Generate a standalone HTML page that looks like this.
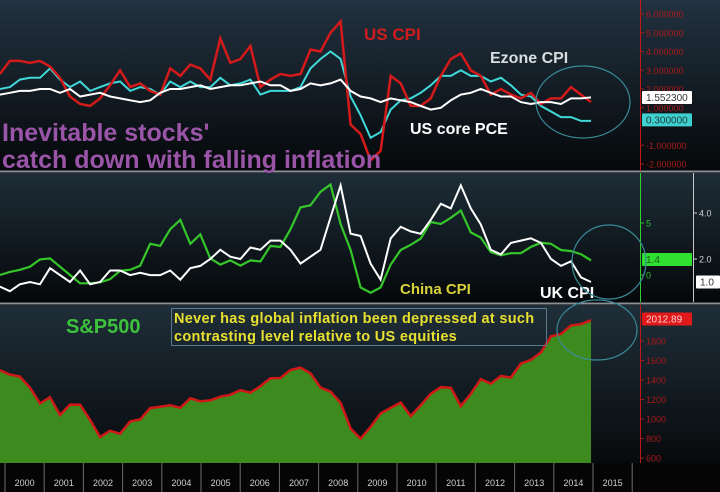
<!DOCTYPE html>
<html><head><meta charset="utf-8"><style>
html,body{margin:0;padding:0;background:#000;}
svg{display:block;font-family:"Liberation Sans",sans-serif;}
</style></head><body>
<svg id="chart" width="720" height="492" viewBox="0 0 720 492">
<defs>
<linearGradient id="bg1" x1="0" y1="0" x2="0" y2="1"><stop offset="0" stop-color="#223240"/><stop offset="1" stop-color="#05080a"/></linearGradient>
<linearGradient id="bg2" x1="0" y1="0" x2="0" y2="1"><stop offset="0" stop-color="#1e2d38"/><stop offset="1" stop-color="#05080a"/></linearGradient>
<linearGradient id="bg3" x1="0" y1="0" x2="0" y2="1"><stop offset="0" stop-color="#1f2e39"/><stop offset="1" stop-color="#070a0c"/></linearGradient>
</defs>
<rect x="0" y="0" width="720" height="171" fill="url(#bg1)"/>
<rect x="0" y="173" width="720" height="129" fill="url(#bg2)"/>
<rect x="0" y="305" width="720" height="158" fill="url(#bg3)"/>
<rect x="0" y="463" width="720" height="29" fill="#050505"/>
<line x1="0" y1="171.5" x2="720" y2="171.5" stroke="#8a8f94" stroke-width="2"/>
<line x1="0" y1="303.5" x2="720" y2="303.5" stroke="#8a8f94" stroke-width="2"/>
<line x1="640.5" y1="0" x2="640.5" y2="171" stroke="#c01818"/>
<line x1="640.5" y1="173" x2="640.5" y2="302" stroke="#2fd02f"/>
<line x1="693.5" y1="173" x2="693.5" y2="302" stroke="#c8c8c8"/>
<line x1="640.5" y1="305" x2="640.5" y2="463" stroke="#c01818"/>
<g id="axes"></g>
<g id="marks"></g>
<g id="annot">
<text x="364" y="40" fill="#d01c1c" font-size="17" font-weight="bold">US CPI</text>
<text x="490" y="63" fill="#d8dde0" font-size="16" font-weight="bold">Ezone CPI</text>
<text x="410" y="134" fill="#ffffff" font-size="16" font-weight="bold">US core PCE</text>
<text x="2" y="141" fill="#9b55a8" font-size="25" font-weight="bold">Inevitable stocks'</text>
<text x="2" y="168" fill="#9b55a8" font-size="25" font-weight="bold">catch down with falling inflation</text>
<text x="400" y="294" fill="#d8d23a" font-size="15" font-weight="bold">China CPI</text>
<text x="540" y="298" fill="#ffffff" font-size="16" font-weight="bold">UK CPI</text>
<text x="66" y="333" fill="#3cc23c" font-size="20" font-weight="bold">S&amp;P500</text>
<rect x="171.5" y="308.5" width="375" height="37" fill="none" stroke="#5a7a8a"/>
<text x="174" y="323" fill="#e8e030" font-size="14.5" font-weight="bold" letter-spacing="0.3">Never has global inflation been depressed at such</text>
<text x="174" y="341" fill="#e8e030" font-size="14.5" font-weight="bold" letter-spacing="0.3">contrasting level relative to US equities</text>
<ellipse cx="583" cy="102" rx="47" ry="36" fill="none" stroke="#3a8a98" stroke-width="1.2"/>
<ellipse cx="609" cy="262" rx="37" ry="37" fill="none" stroke="#3a8a98" stroke-width="1.2"/>
<ellipse cx="597" cy="330" rx="40" ry="30" fill="none" stroke="#3a8a98" stroke-width="1.2"/>
</g>
</svg>
<script>
// Quarterly data 2000Q1 .. 2014Q4
const usCpi=[2.8,3.5,3.5,3.4,3.5,3.2,2.6,1.6,1.2,1.1,1.5,2.2,3.0,2.1,2.3,1.9,1.7,3.1,2.7,3.3,3.1,2.5,4.7,3.4,3.6,4.3,2.1,2.5,2.8,2.7,2.8,4.1,4.0,5.0,5.6,0.1,-0.4,-1.8,-1.3,2.7,2.3,1.1,1.1,1.5,2.7,3.6,3.9,3.0,2.7,1.7,2.0,1.7,1.5,1.8,1.2,1.5,1.5,2.1,1.7,1.3];
const ezoneCpi=[2.0,2.1,2.5,2.6,2.6,3.1,2.5,2.1,2.4,1.9,2.1,2.3,2.4,1.9,2.1,2.0,1.7,2.4,2.1,2.4,2.1,2.1,2.6,2.2,2.3,2.5,1.7,1.9,1.9,1.9,2.1,3.1,3.6,4.0,3.6,1.6,0.6,-0.6,-0.3,0.9,1.4,1.5,1.8,2.2,2.7,2.7,3.0,2.7,2.7,2.4,2.6,2.2,1.7,1.6,1.1,0.8,0.5,0.5,0.3,0.3];
const usCorePce=[1.7,1.8,1.9,1.9,2.0,2.0,1.8,2.0,1.6,1.7,1.8,1.6,1.5,1.4,1.3,1.4,1.8,2.0,2.0,2.1,2.2,2.0,2.1,2.2,2.2,2.3,2.4,2.2,2.2,1.9,2.0,2.3,2.2,2.3,2.5,1.9,1.6,1.5,1.3,1.5,1.4,1.3,1.1,0.9,1.0,1.4,1.7,1.8,2.0,1.8,1.6,1.6,1.3,1.2,1.3,1.3,1.2,1.5,1.5,1.55];
const chinaCpi=[0.0,0.3,0.5,0.8,1.5,1.6,0.8,0.0,-0.8,-0.8,-0.7,-0.4,0.4,0.5,0.9,3.0,2.8,4.4,5.3,3.0,3.9,1.6,1.0,1.4,0.9,1.4,1.3,2.8,2.7,4.4,6.5,6.7,8.0,8.7,4.9,2.4,-1.2,-1.7,-1.2,1.0,2.4,2.9,3.5,5.1,4.9,5.5,6.2,4.1,3.6,2.2,1.9,2.1,2.1,2.7,3.1,3.0,2.4,2.3,2.0,1.4];
const ukCpi=[0.8,0.6,0.9,1.0,0.9,1.6,1.3,1.0,1.5,0.9,1.0,1.5,1.5,1.3,1.4,1.3,1.3,1.5,1.1,1.6,1.7,2.0,2.4,2.1,2.0,2.5,2.4,2.8,2.8,2.4,1.8,2.1,2.4,3.8,5.2,3.1,3.0,1.8,1.1,2.9,3.4,3.2,3.1,3.7,4.4,4.2,5.2,4.2,3.5,2.4,2.2,2.7,2.8,2.9,2.7,2.0,1.7,1.9,1.2,1.0];
const sp500=[1499,1455,1436,1320,1160,1224,1041,1148,1147,990,815,880,848,975,996,1112,1126,1141,1115,1212,1181,1191,1229,1248,1295,1270,1336,1418,1421,1503,1527,1468,1323,1280,1166,903,798,919,1057,1115,1169,1031,1141,1258,1326,1321,1131,1258,1408,1362,1441,1426,1569,1606,1682,1848,1872,1960,1972,2013];
const years=["2000","2001","2002","2003","2004","2005","2006","2007","2008","2009","2010","2011","2012","2013","2014","2015"];
const cpiTicks=[6,5,4,3,2,1,-1,-2];
const chinaTicks=[5,0];
const ukTicks=[4.0,2.0];
const spTicks=[1800,1600,1400,1200,1000,800,600];

const NS="http://www.w3.org/2000/svg";
const marks=document.getElementById('marks');
const axes=document.getElementById('axes');
function xYear(y){return 5+(y-2000)*39.2;}
function xIdx(i,n){return xYear(2000-0.13+i*(15.08/(n-1)));}
function yCpi(v){return 126.5-v*18.75;}
function yChina(v){return 275-v*10.4;}
function yUk(v){return 305-v*23;}
function ySp(v){return 458-(v-600)*0.0975;}
function mk(tag,attrs,parent){const e=document.createElementNS(NS,tag);for(const k in attrs)e.setAttribute(k,attrs[k]);parent.appendChild(e);return e;}
function pts(arr,yf){return arr.map((v,i)=>xIdx(i,arr.length).toFixed(1)+','+yf(v).toFixed(1)).join(' ');}

let sArea=mk('polygon',{points:xIdx(0,sp500.length)+',463 '+pts(sp500,ySp)+' '+xIdx(sp500.length-1,sp500.length)+',463',fill:'#3d8a1e'},marks);


let sLine=mk('polyline',{points:pts(sp500,ySp),fill:'none',stroke:'#d01818','stroke-width':2.5},marks);



let l;
l=mk('polyline',{points:pts(chinaCpi,yChina),fill:'none',stroke:'#35c62a','stroke-width':2.2},marks);


l=mk('polyline',{points:pts(ukCpi,yUk),fill:'none',stroke:'#ffffff','stroke-width':2},marks);


l=mk('polyline',{points:pts(ezoneCpi,yCpi),fill:'none',stroke:'#40d8d8','stroke-width':2},marks);


l=mk('polyline',{points:pts(usCpi,yCpi),fill:'none',stroke:'#d41a1a','stroke-width':2.5},marks);


l=mk('polyline',{points:pts(usCorePce,yCpi),fill:'none',stroke:'#ffffff','stroke-width':2},marks);



function tick(x,y,txt,color,name){
  const t=mk('line',{x1:x,y1:y,x2:x+4,y2:y,stroke:color},axes);
  
  
  const s=mk('text',{x:x+6,y:y+3.5,fill:color,'font-size':9},axes);
  s.textContent=txt;
  
  
}
cpiTicks.forEach(v=>tick(640,yCpi(v),(v<0?'-':'')+Math.abs(v).toFixed(6),'#a81a1a','cpi-axis'));
chinaTicks.forEach(v=>tick(640,yChina(v),String(v),'#30c030','china-axis'));
ukTicks.forEach(v=>tick(693,yUk(v),v.toFixed(1),'#d0d0d0','uk-axis'));
spTicks.forEach(v=>tick(640,ySp(v),String(v),'#a81a1a','sp500-axis'));

function badge(x,y,w,txt,bg,fg,name){
  const r=mk('rect',{x:x,y:y-6.5,width:w,height:13,fill:bg,rx:1},axes);
  
  
  const t=mk('text',{x:x+4,y:y+3.5,fill:fg,'font-size':10},axes);
  t.textContent=txt;
  
  
}
badge(642,yCpi(usCorePce[usCorePce.length-1]),50,'1.552300','#ffffff','#333','us-core-pce-last-value');
badge(642,yCpi(ezoneCpi[ezoneCpi.length-1])-1,50,'0.300000','#40d0d0','#1a3a3a','ezone-cpi-last-value');
badge(642,yChina(chinaCpi[chinaCpi.length-1])-1,50,'1.4','#30e030','#1a5a1a','china-cpi-last-value');
badge(696,yUk(ukCpi[ukCpi.length-1]),24,'1.0','#ffffff','#333','uk-cpi-last-value');
badge(642,319,50,'2012.89','#e01a1a','#ffd0d0','sp500-last-value');

years.forEach((y,i)=>{
  const x=xYear(2000+i);
  const d=mk('line',{x1:x,y1:463,x2:x,y2:492,stroke:'#6a6a6a'},axes);
  
  
  const t=mk('text',{x:x+19.6,y:486,fill:'#d0d0d0','font-size':9,'text-anchor':'middle'},axes);
  t.textContent=y;
  
  
});
const last=mk('line',{x1:xYear(2016),y1:463,x2:xYear(2016),y2:492,stroke:'#6a6a6a'},axes);


</script>
</body></html>
